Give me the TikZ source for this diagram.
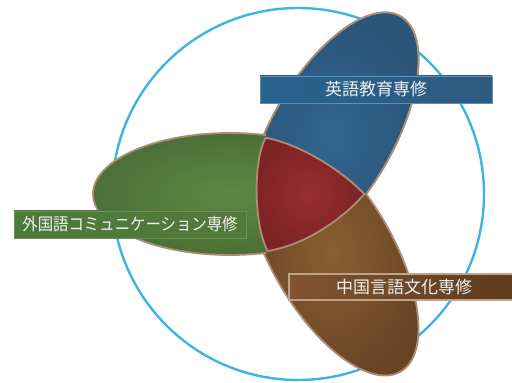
\documentclass[tikz,border=0pt]{standalone}
\usepackage{fontspec}
\newfontfamily\jp{Noto Sans CJK JP}
\definecolor{ringblue}{HTML}{3DB3E6}
\definecolor{rimtan}{HTML}{AD8E74}
\definecolor{bluein}{HTML}{32658E}
\definecolor{blueout}{HTML}{2A5478}
\definecolor{greenin}{HTML}{5D8943}
\definecolor{greenout}{HTML}{4C6F37}
\definecolor{brownin}{HTML}{885E32}
\definecolor{brownout}{HTML}{664424}
\definecolor{redin}{HTML}{982E2D}
\definecolor{redout}{HTML}{7C2326}
\definecolor{barblueL}{HTML}{28638E}
\definecolor{barblueR}{HTML}{2E5A80}
\definecolor{barblueE}{HTML}{5E8FB5}
\definecolor{bargreenL}{HTML}{4D7A38}
\definecolor{bargreenR}{HTML}{52793C}
\definecolor{bargreenE}{HTML}{6E8E56}
\definecolor{barbrownL}{HTML}{7F5530}
\definecolor{barbrownR}{HTML}{5D3A1E}
\definecolor{barbrownE}{HTML}{BFA287}
\tikzset{
  petal/.style={draw=rimtan, line width=1.8pt},
  labeltext/.style={text=white!94!black, font=\jp\fontsize{17}{20}\selectfont, inner sep=0pt},
}
\begin{document}
\begin{tikzpicture}[x=1pt,y=1pt]
\useasboundingbox (0,0) rectangle (512,383);
% outer circle
\draw[ringblue, line width=2.4pt] (298,189) circle (186);
% petals
\shade[petal, inner color=bluein, outer color=blueout, rotate around={60:(332,248)}] (332,248) ellipse (137 and 61);
\shade[petal, inner color=brownin, outer color=brownout, rotate around={-60:(332,130)}] (332,130) ellipse (137 and 61);
\begin{scope}
  \clip (0,189) rectangle (512,383);
  \shade[petal, inner color=bluein, outer color=blueout, rotate around={60:(332,248)}] (332,248) ellipse (137 and 61);
\end{scope}
\begin{scope}
  \clip (0,0) rectangle (266,383);
  \shade[petal, inner color=greenin, outer color=greenout] (230,189) ellipse (137 and 61);
\end{scope}
% centre
\shade[draw=rimtan, line width=1.8pt, line join=round, inner color=redin, outer color=redout]
  (265.7,245.3) .. controls (300.7,238.3) and (340,214) .. (364.3,189)
  .. controls (338,159) and (300,137) .. (267.7,132)
  .. controls (253.5,158) and (253,223) .. (265.7,245.3) -- cycle;
% labels
\shade[left color=barblueL, right color=barblueR, draw=barblueE, line width=0.8pt] (260,280) rectangle (492,307);
\node[labeltext] (eng) at (376,293.5) {英語教育専修};
\shade[left color=bargreenL, right color=bargreenR, draw=bargreenE, line width=0.8pt] (14,145) rectangle (246,172);
\node[labeltext, xscale=0.905] (comm) at (130,158.5) {外国語コミュニケーション専修};
\shade[left color=barbrownL, right color=barbrownR, draw=barbrownE, line width=1.6pt] (289,83) rectangle (520,109);
\node[labeltext] (chn) at (404,96) {中国言語文化専修};
\end{tikzpicture}
\end{document}
